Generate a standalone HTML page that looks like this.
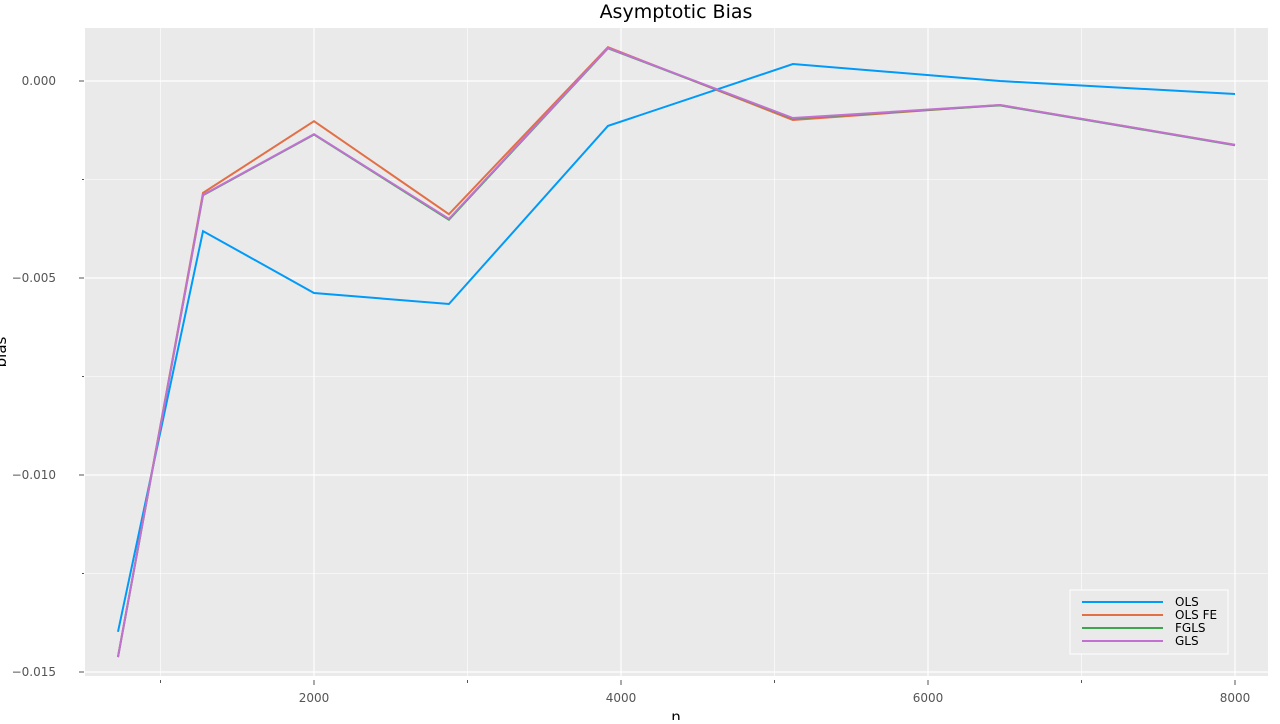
<!DOCTYPE html>
<html><head><meta charset="utf-8"><style>
body{margin:0;background:#fff;font-family:"DejaVu Sans","Liberation Sans",sans-serif}
</style></head><body>
<svg id="chart" width="1280" height="720" xmlns="http://www.w3.org/2000/svg">
<rect x="85" y="28" width="1183" height="648" fill="#eaeaea"/>
<g id="grid"></g><g id="axes"></g><g id="series"></g>
<text x="676" y="18" font-size="19" text-anchor="middle" fill="#000">Asymptotic Bias</text>
<text x="676" y="722" font-size="15" text-anchor="middle" fill="#000">n</text>
<text transform="translate(6,352) rotate(-90)" font-size="15" text-anchor="middle" fill="#000">bias</text>
<g id="legend">
<rect x="1070" y="590" width="158" height="64" fill="#eaeaea" stroke="#fff" stroke-width="1"/>
</g>
</svg>
<script>
const nValues=[723,1277,2000,2879,3915,5120,6469,8000];
const seriesNames=["OLS","OLS FE","FGLS","GLS"];
const olsValues=[-0.01398,-0.00381,-0.00538,-0.00566,-0.00114,0.00043,0.0,-0.00033];
const olsFeValues=[-0.01462,-0.00284,-0.00102,-0.00338,0.00086,-0.00099,-0.00061,-0.00162];
const fglsValues=[-0.01462,-0.00290,-0.00136,-0.00352,0.00083,-0.00095,-0.00062,-0.00163];
const glsValues=[-0.01462,-0.00289,-0.00135,-0.00350,0.00084,-0.00094,-0.00061,-0.00162];
const xTicks=[2000,4000,6000,8000];
const xMinor=[1000,3000,5000,7000];
const yTicks=[0,-0.005,-0.010,-0.015];
const yTickLabels=["0.000","\u22120.005","\u22120.010","\u22120.015"];
const yMinor=[-0.0025,-0.0075,-0.0125];
const colors=["#009af9","#e26f46","#3ea44e","#c270d2"];
const NS="http://www.w3.org/2000/svg";
const X=n=>314+(n-2000)*0.1535;
const Y=v=>81-v*(197/0.005);
function mk(tag,attrs,parent){const e=document.createElementNS(NS,tag);for(const k in attrs)e.setAttribute(k,attrs[k]);document.getElementById(parent).appendChild(e);return e;}
[...xTicks,...xMinor].forEach(t=>{const l=mk('line',{x1:X(t),x2:X(t),y1:28,y2:676,stroke:'#fff','stroke-width':xTicks.includes(t)?1.2:0.6},'grid');


const tk=mk('line',{x1:X(t),x2:X(t),y1:680,y2:xTicks.includes(t)?685:683,stroke:'#555'},'axes');

});
xTicks.forEach(t=>{const tx=mk('text',{x:X(t),y:702,'font-size':12,'text-anchor':'middle',fill:'#555'},'axes');tx.textContent=t;

});
[...yTicks,...yMinor].forEach(t=>{const l=mk('line',{x1:85,x2:1268,y1:Y(t),y2:Y(t),stroke:'#fff','stroke-width':yTicks.includes(t)?1.2:0.6},'grid');


const tk=mk('line',{x1:yTicks.includes(t)?79:82,x2:84,y1:Y(t),y2:Y(t),stroke:'#555'},'axes');

});
yTicks.forEach((t,i)=>{const tx=mk('text',{x:56,y:Y(t)+4,'font-size':12,'text-anchor':'end',fill:'#555'},'axes');tx.textContent=yTickLabels[i];

});
[olsValues,olsFeValues,fglsValues,glsValues].forEach((vals,si)=>{
const p=mk('polyline',{points:vals.map((v,i)=>X(nValues[i])+','+Y(v)).join(' '),fill:'none',stroke:colors[si],'stroke-width':2},'series');


const ly=602+si*13;
const ll=mk('line',{x1:1082,x2:1163,y1:ly,y2:ly,stroke:colors[si],'stroke-width':2},'legend');


const lt=mk('text',{x:1175,y:ly+4,'font-size':12,fill:'#000'},'legend');lt.textContent=seriesNames[si];

});
</script>
</body></html>
